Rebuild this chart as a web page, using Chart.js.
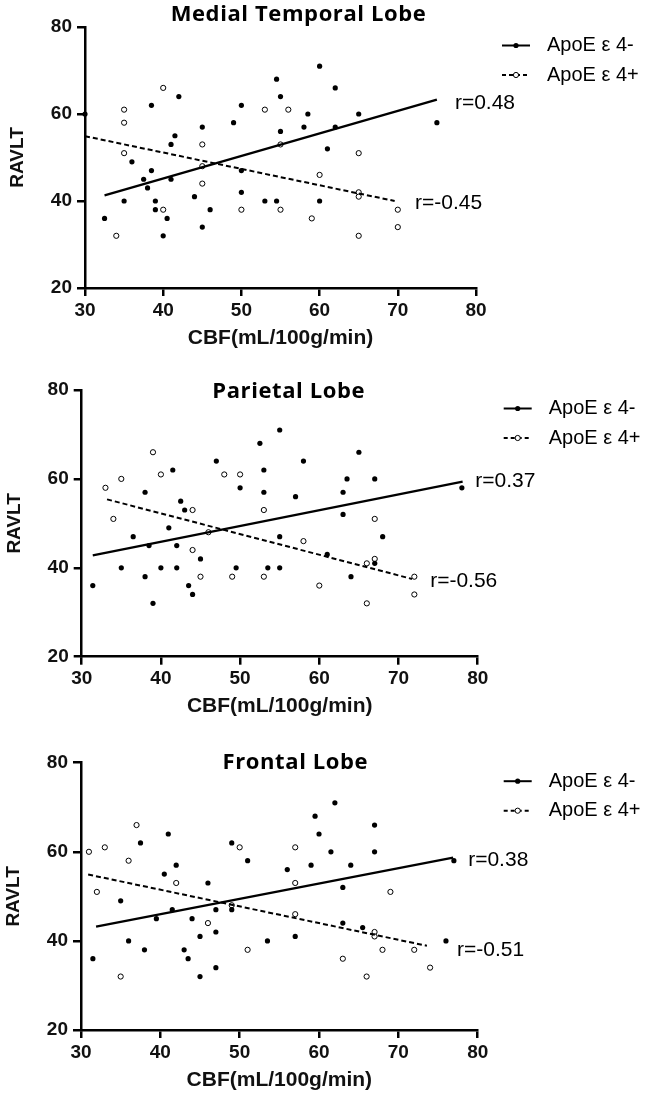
<!DOCTYPE html>
<html><head><meta charset="utf-8">
<script src="https://cdn.jsdelivr.net/npm/chart.js@4.4.1/dist/chart.umd.min.js"></script>
<style>
html,body{margin:0;padding:0;background:#fff;}
#wrap{position:relative;width:646px;height:1099px;overflow:hidden;background:#fff;}
canvas{position:absolute;left:0;}
</style></head><body><div id="wrap">
<canvas id="c1"></canvas><canvas id="c2"></canvas><canvas id="c3"></canvas></div>
<script>
// ---------- data ----------
const xTicks = [30, 40, 50, 60, 70, 80];
const yTicks = [20, 40, 60, 80];
const xTitle = "CBF(mL/100g/min)";
const yTitle = "RAVLT";
const legendLabels = ["ApoE ε 4-", "ApoE ε 4+"];

// Medial Temporal Lobe
const mtlTitle = "Medial Temporal Lobe";
const mtlNeg = [[30,60],[32.5,36],[35,40],[36,49],[37.5,45],[38,43],[38.5,62],[38.5,47],[39,40],[39,38],[40,32],[40.5,36],[41,53],[41,45],[41.5,55],[42,64],[44,41],[45,57],[45,34],[46,38],[49,58],[50,62],[50,47],[50,42],[53,40],[54.5,68],[54.5,40],[55,64],[55,56],[58,57],[58.5,60],[60,71],[60,40],[61,52],[62,66],[62,57],[65,60],[75,58]];
const mtlPos = [[34,32],[35,61],[35,58],[35,51],[40,66],[40,38],[45,53],[45,48],[45,44],[50,38],[53,61],[55,53],[55,38],[56,61],[59,36],[60,46],[65,51],[65,42],[65,41],[65,32],[70,38],[70,34]];
const mtlNegFit = [[32.5,41.3],[75,63.3]];
const mtlPosFit = [[30,54.9],[69.6,40]];
const mtlR = ["r=0.48", "r=-0.45"];

// Parietal Lobe
const parTitle = "Parietal Lobe";
const parNeg = [[31.4,36],[35,40],[36.5,47],[38,57],[38,38],[38.5,45],[39,32],[40,40],[41,49],[41.5,62],[42,45],[42,40],[42.5,55],[43,53],[43.5,36],[44,34],[45,42],[47,64],[49.5,40],[50,58],[52.5,68],[53,62],[53,57],[53.5,40],[55,71],[55,47],[55,40],[57,56],[58,64],[61,43],[63,57],[63,52],[63.5,60],[64,38],[65,66],[67,60],[67,41],[68,47],[78,58]];
const parPos = [[33,58],[34,51],[35,60],[39,66],[40,61],[44,53],[44,44],[45,38],[46,48],[48,61],[49,38],[50,61],[53,53],[53,38],[58,46],[60,36],[66,41],[66,32],[67,51],[67,42],[72,38],[72,34]];
const parNegFit = [[31.4,42.8],[78.1,59.4]];
const parPosFit = [[33.2,55.4],[71.7,37.5]];
const parR = ["r=0.37", "r=-0.56"];

// Frontal Lobe
const froTitle = "Frontal Lobe";
const froNeg = [[31.5,36],[35,49],[36,40],[37.5,62],[38,38],[39.5,45],[40.5,55],[41,64],[41.5,47],[42,57],[43,38],[43.5,36],[44,45],[45,41],[45,32],[46,53],[47,47],[47,42],[47,34],[49,62],[49,47],[51,58],[53.5,40],[56,56],[57,41],[59,57],[59.5,68],[60,64],[61.5,60],[62,71],[63,52],[63,44],[64,57],[65.5,43],[67,66],[67,60],[76,40],[77,58]];
const froPos = [[31,60],[32,51],[33,61],[35,32],[36,58],[37,66],[42,53],[46,44],[49,48],[50,61],[51,38],[57,61],[57,53],[57,46],[63,36],[66,32],[67,42],[67,41],[68,38],[69,51],[72,38],[74,34]];
const froNegFit = [[31.9,43.2],[76.9,58.7]];
const froPosFit = [[30.9,54.9],[73.6,38.9]];
const froR = ["r=0.38", "r=-0.51"];

// ---------- layout (pixel boxes, label anchors in data units) ----------
const panels = [
  {id:'c1', canvasTop:0,   canvasH:357, area:{l:85,  r:476,   t:27,    b:288},  title:mtlTitle, titleDx:18, titleDy:-12.5,
   neg:mtlNeg, pos:mtlPos, negFit:mtlNegFit, posFit:mtlPosFit, r:mtlR, rAt:[[77.3,62.5],[72.2,39.5]]},
  {id:'c2', canvasTop:357, canvasH:368, area:{l:81.7,r:477.7, t:390,   b:656.7},title:parTitle, titleDx:9,  titleDy:1.5,
   neg:parNeg, pos:parPos, negFit:parNegFit, posFit:parPosFit, r:parR, rAt:[[79.7,59.4],[74,36.9]]},
  {id:'c3', canvasTop:725, canvasH:374, area:{l:81,  r:477.7, t:762.7, b:1030}, title:froTitle, titleDx:16, titleDy:0,
   neg:froNeg, pos:froPos, negFit:froNegFit, posFit:froPosFit, r:froR, rAt:[[78.8,58.2],[77.4,38]]}
];

const AX_FONT = "'Liberation Sans', Arial, sans-serif";
const toXY = arr => arr.map(([x, y]) => ({x, y}));

function makeChart(p) {
  const cv = document.getElementById(p.id);
  cv.width = 646; cv.height = p.canvasH;
  cv.style.top = p.canvasTop + 'px';
  const A = p.area;
  const areaTop = A.t - p.canvasTop, areaBottom = A.b - p.canvasTop;
  const YW = 80, XH = 66;

  const annot = {
    id: 'annot',
    afterDraw(chart) {
      const ctx = chart.ctx, ca = chart.chartArea;
      const xs = chart.scales.x, ys = chart.scales.y;
      ctx.save();
      // title
      ctx.fillStyle = '#000';
      ctx.font = "bold 22px 'Open Sans'";
      if ('letterSpacing' in ctx) ctx.letterSpacing = '0.6px';
      ctx.textAlign = 'center'; ctx.textBaseline = 'middle';
      ctx.fillText(p.title, (ca.left + ca.right) / 2 + p.titleDx, ca.top + p.titleDy);
      if ('letterSpacing' in ctx) ctx.letterSpacing = '0px';
      // r labels
      ctx.font = '21px ' + AX_FONT;
      ctx.textAlign = 'left';
      p.r.forEach((t, i) => {
        ctx.fillText(t, xs.getPixelForValue(p.rAt[i][0]), ys.getPixelForValue(p.rAt[i][1]));
      });
      // legend
      const lx0 = ca.right + 26, lx1 = lx0 + 28, cx = (lx0 + lx1) / 2;
      for (let i = 0; i < 2; i++) {
        const y = ca.top + 18.5 + 29.5 * i;
        ctx.strokeStyle = '#000';
        ctx.lineWidth = 2;
        ctx.setLineDash(i ? [4, 3] : []);
        ctx.beginPath(); ctx.moveTo(lx0, y); ctx.lineTo(lx1, y); ctx.stroke();
        ctx.setLineDash([]);
        ctx.beginPath(); ctx.arc(cx, y, 2.6, 0, Math.PI * 2);
        if (i === 0) { ctx.fillStyle = '#000'; ctx.fill(); }
        else { ctx.fillStyle = '#fff'; ctx.fill(); ctx.lineWidth = 1; ctx.stroke(); }
        ctx.fillStyle = '#000';
        ctx.font = '20px ' + AX_FONT;
        ctx.textAlign = 'left'; ctx.textBaseline = 'middle';
        ctx.fillText(legendLabels[i], lx0 + 45, y);
      }
      ctx.restore();
    }
  };

  const tickFont = {family: AX_FONT, size: 19, weight: 'bold'};
  const titleFont = {family: AX_FONT, size: 21, weight: 'bold'};

  new Chart(cv, {
    type: 'scatter',
    data: {
      datasets: [
        {label: legendLabels[0] + ' fit', data: toXY(p.negFit), showLine: true, borderColor: '#000', borderWidth: 2.3, pointRadius: 0, clip: false},
        {label: legendLabels[1] + ' fit', data: toXY(p.posFit), showLine: true, borderColor: '#000', borderWidth: 2, borderDash: [5, 3], pointRadius: 0, clip: false},
        {label: legendLabels[0], data: toXY(p.neg), pointRadius: 2.6, pointBackgroundColor: '#000', pointBorderColor: '#000', pointBorderWidth: 0, showLine: false, clip: false},
        {label: legendLabels[1], data: toXY(p.pos), pointRadius: 2.6, pointBackgroundColor: '#fff', pointBorderColor: '#000', pointBorderWidth: 1, showLine: false, clip: false}
      ]
    },
    options: {
      responsive: false, animation: false, devicePixelRatio: 1,
      layout: {padding: {left: A.l - YW, right: 646 - A.r, top: areaTop, bottom: p.canvasH - areaBottom - XH}},
      plugins: {legend: {display: false}, tooltip: {enabled: false}, title: {display: false}},
      scales: {
        x: {
          type: 'linear', min: xTicks[0], max: xTicks[xTicks.length - 1],
          afterBuildTicks: s => { s.ticks = xTicks.map(v => ({value: v})); },
          ticks: {font: tickFont, color: '#111', padding: 3, maxRotation: 0, autoSkip: false},
          grid: {display: true, drawOnChartArea: false, drawTicks: true, tickLength: 8, color: '#000', lineWidth: 2.5},
          border: {display: true, color: '#000', width: 2.5},
          title: {display: true, text: xTitle, font: titleFont, color: '#111', padding: {top: 0, bottom: 3.4}},
          afterFit: s => { s.height = XH; s.paddingLeft = 0; s.paddingRight = 0; }
        },
        y: {
          type: 'linear', min: yTicks[0], max: yTicks[yTicks.length - 1],
          afterBuildTicks: s => { s.ticks = yTicks.map(v => ({value: v})); },
          ticks: {font: tickFont, color: '#111', padding: 5, autoSkip: false},
          grid: {display: true, drawOnChartArea: false, drawTicks: true, tickLength: 8, color: '#000', lineWidth: 2.5},
          border: {display: true, color: '#000', width: 2.5},
          title: {display: true, text: yTitle, font: {family: AX_FONT, size: 19, weight: 'bold'}, color: '#111', padding: {top: 1.6, bottom: 0}},
          afterFit: s => { s.width = YW; s.paddingTop = 0; s.paddingBottom = 0; }
        }
      }
    },
    plugins: [annot]
  });
}

panels.forEach(makeChart);
</script></body></html>
